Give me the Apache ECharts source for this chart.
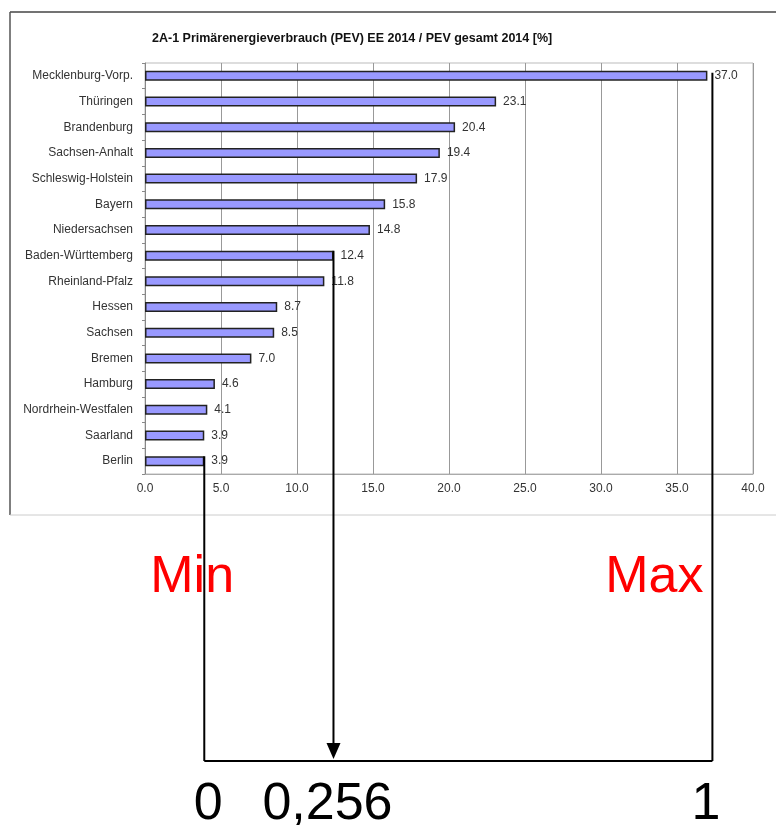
<!DOCTYPE html>
<html>
<head>
<meta charset="utf-8">
<script src="https://cdn.jsdelivr.net/npm/echarts@6/dist/echarts.min.js"></script>
<style>
  html, body { margin: 0; padding: 0; background: #fff; }
  #main { width: 776px; height: 825px; }
</style>
</head>
<body>
<div id="main"></div>
<script>
// data
var title = "2A-1 Primärenergieverbrauch (PEV) EE 2014 / PEV gesamt 2014 [%]";
var states = [
  "Mecklenburg-Vorp.", "Thüringen", "Brandenburg", "Sachsen-Anhalt",
  "Schleswig-Holstein", "Bayern", "Niedersachsen", "Baden-Württemberg",
  "Rheinland-Pfalz", "Hessen", "Sachsen", "Bremen", "Hamburg",
  "Nordrhein-Westfalen", "Saarland", "Berlin"
];
var shares = [37.0, 23.1, 20.4, 19.4, 17.9, 15.8, 14.8, 12.4, 11.8, 8.7, 8.5, 7.0, 4.6, 4.1, 3.9, 3.9];
var xMin = 0, xMax = 40, xStep = 5;

// normalisation annotation: min, picked value, max
var markIndex = [15, 7, 0];        // Berlin, Baden-Württemberg, Mecklenburg-Vorp.
var markLabels = ["0", "0,256", "1"];
var sideLabels = ["Min", "Max"];

var font = "Liberation Sans, Arial, sans-serif";
var chart = echarts.init(document.getElementById("main"));

var option = {
  animation: false,
  backgroundColor: "#fff",
  title: {
    text: title,
    left: 147,
    top: 27,
    textStyle: { fontFamily: font, fontSize: 12.5, fontWeight: "bold", color: "#111" }
  },
  grid: {
    left: 145, top: 63, width: 608, height: 411,
    show: true, borderColor: "#bbb", borderWidth: 1
  },
  xAxis: {
    type: "value",
    min: xMin, max: xMax, interval: xStep,
    axisLine: { show: true, lineStyle: { color: "#aaa" } },
    axisTick: { show: false },
    splitLine: { show: true, lineStyle: { color: "#999", width: 1 } },
    axisLabel: {
      margin: 9, color: "#333", fontFamily: font, fontSize: 12,
      formatter: function (v) { return v.toFixed(1); }
    }
  },
  yAxis: {
    type: "category",
    inverse: true,
    data: states,
    axisLine: { show: true, lineStyle: { color: "#888" } },
    axisTick: { show: true, length: 3, lineStyle: { color: "#888" } },
    axisLabel: { margin: 12, color: "#333", fontFamily: font, fontSize: 12 }
  },
  series: [{
    type: "bar",
    data: shares,
    barWidth: 10,
    itemStyle: { color: "#9999ff", borderColor: "#222", borderWidth: 1.5 },
    label: {
      show: true, position: "right", distance: 7,
      color: "#333", fontFamily: font, fontSize: 12,
      formatter: function (p) { return p.value.toFixed(1); }
    }
  }]
};
chart.setOption(option);

// annotation drawn from the bar ends
var pts = markIndex.map(function (i) {
  return chart.convertToPixel({ gridIndex: 0 }, [shares[i], states[i]]);
});
var xLo = pts[0][0], xMid = pts[1][0], xHi = pts[2][0] + 5;  // max line sits just past the bar end
var baseY = 761;
var lineStyle = { stroke: "#000", lineWidth: 2 };
var g = [];

// outer frame of the pasted chart
g.push({ type: "line", z: 1, shape: { x1: 10, y1: 12, x2: 776, y2: 12 }, style: { stroke: "#444", lineWidth: 1.5 } });
g.push({ type: "line", z: 1, shape: { x1: 10, y1: 12, x2: 10, y2: 515 }, style: { stroke: "#555", lineWidth: 1.5 } });
g.push({ type: "line", z: 1, shape: { x1: 10, y1: 515, x2: 776, y2: 515 }, style: { stroke: "#ccc", lineWidth: 1 } });

// min and max verticals
g.push({ type: "line", z: 50, shape: { x1: xLo, y1: pts[0][1] - 5, x2: xLo, y2: baseY }, style: lineStyle });
g.push({ type: "line", z: 50, shape: { x1: xHi, y1: pts[2][1] - 3, x2: xHi, y2: baseY }, style: lineStyle });
g.push({ type: "line", z: 50, shape: { x1: xLo, y1: baseY, x2: xHi, y2: baseY }, style: lineStyle });
// arrow
g.push({ type: "line", z: 50, shape: { x1: xMid, y1: pts[1][1] - 5, x2: xMid, y2: 745 }, style: lineStyle });
g.push({ type: "polygon", z: 50, shape: { points: [[xMid - 7, 743], [xMid + 7, 743], [xMid, 759]] }, style: { fill: "#000" } });

// red Min / Max
g.push({ type: "text", z: 40, x: xLo - 54, y: 578, style: { text: sideLabels[0], font: "52px " + font, fill: "#ff0000", align: "left", verticalAlign: "middle" } });
g.push({ type: "text", z: 40, x: xHi - 9, y: 578, style: { text: sideLabels[1], font: "52px " + font, fill: "#ff0000", align: "right", verticalAlign: "middle" } });

// scale numbers
g.push({ type: "text", z: 40, x: xLo + 4, y: 805, style: { text: markLabels[0], font: "52px " + font, fill: "#000", align: "center", verticalAlign: "middle" } });
g.push({ type: "text", z: 40, x: xMid - 6, y: 805, style: { text: markLabels[1], font: "52px " + font, fill: "#000", align: "center", verticalAlign: "middle" } });
g.push({ type: "text", z: 40, x: xHi + 8, y: 805, style: { text: markLabels[2], font: "52px " + font, fill: "#000", align: "right", verticalAlign: "middle" } });

chart.setOption({ graphic: g });
</script>
</body>
</html>
